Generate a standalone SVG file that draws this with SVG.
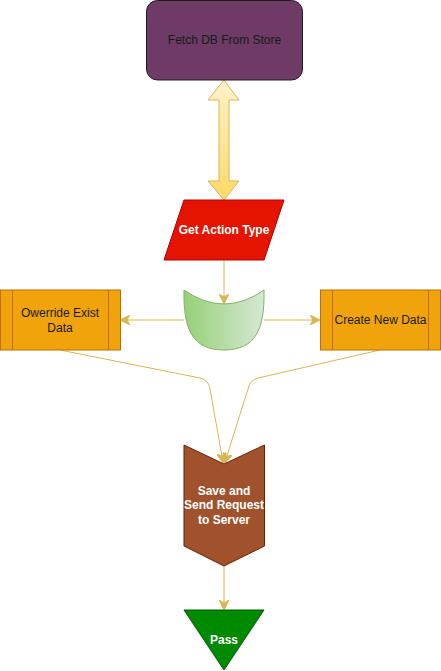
<svg xmlns="http://www.w3.org/2000/svg" width="441" height="671" viewBox="0 0 441 671">
<defs>
<linearGradient id="gy" x1="0" y1="0" x2="0" y2="1"><stop offset="0" stop-color="#fff2cc"/><stop offset="1" stop-color="#ffd966"/></linearGradient>
<linearGradient id="gg" x1="0" y1="0" x2="1" y2="0"><stop offset="0" stop-color="#97d077"/><stop offset="1" stop-color="#d5e8d4"/></linearGradient>
<marker id="ah" viewBox="0 0 10 10" refX="9" refY="5" markerWidth="10" markerHeight="10" markerUnits="userSpaceOnUse" orient="auto">
<path d="M0,0 L10,5 L0,10 L3,5 Z" fill="#d6b656" stroke="#d6b656" stroke-width="1"/>
</marker>
<style>
.t{font-family:"Liberation Sans",Arial,sans-serif;font-size:12px;text-anchor:middle}
.w{fill:#ffffff;font-weight:bold}
.c{fill:none;stroke:#d6b656;stroke-width:1}
.or{fill:#f0a30a;stroke:#bd7000;stroke-width:1}
</style>
</defs>
<rect width="441" height="671" fill="#ffffff"/>
<g id="connectors">
<path class="c" d="M224,260 L224,303" marker-end="url(#ah)"/>
<path class="c" d="M184,320 L121,320" marker-end="url(#ah)"/>
<path class="c" d="M264,320 L319,320" marker-end="url(#ah)"/>
<path class="c" d="M60,350 L200,378 Q209,380 210,389 L223,462" marker-end="url(#ah)"/>
<path class="c" d="M380,350 L258,378 Q250,380 248,389 L225,462" marker-end="url(#ah)"/>
<path class="c" d="M224,566 L224,609" marker-end="url(#ah)"/>
</g>
<g id="dbl-arrow">
<path d="M224,80 L239,100 L229,100 L229,181 L239,181 L224,200 L208,181 L219,181 L219,100 L208,100 Z" fill="url(#gy)" stroke="#d6b656" stroke-width="1"/>
</g>
<g id="fetch">
<rect x="146.5" y="0.5" width="156" height="79.5" rx="11" fill="#6d3b66" stroke="#1f1a1f" stroke-width="1"/>
<text class="t" x="224.5" y="44" fill="#1a1a1a">Fetch DB From Store</text>
</g>
<g id="action">
<path d="M184,200 L284,200 L264,260 L164,260 Z" fill="#e51400" stroke="#b20000" stroke-width="1"/>
<text class="t w" x="224" y="234">Get Action Type</text>
</g>
<g id="decision">
<path d="M184,290 Q224,318 264,290 C265,330 255,350 224,350 C193,350 183,330 184,290 Z" fill="url(#gg)" stroke="#82b366" stroke-width="1"/>
</g>
<g id="override">
<rect class="or" x="0.5" y="290" width="120" height="60"/>
<path d="M12.5,290 V350 M108.5,290 V350" stroke="#bd7000" stroke-width="1"/>
<text class="t" x="60" y="317" fill="#1a1a1a">Owerride Exist</text>
<text class="t" x="60" y="332" fill="#1a1a1a">Data</text>
</g>
<g id="create">
<rect class="or" x="320.5" y="290" width="120" height="60"/>
<path d="M332.5,290 V350 M428.5,290 V350" stroke="#bd7000" stroke-width="1"/>
<text class="t" x="380.5" y="324" fill="#1a1a1a">Create New Data</text>
</g>
<g id="save">
<path d="M184,445 L224,464 L264.5,445 L264.5,546 L224,566 L184,546 Z" fill="#a0522d" stroke="#6d1f00" stroke-width="1"/>
<text class="t w" x="224" y="495">Save and</text>
<text class="t w" x="224" y="509">Send Request</text>
<text class="t w" x="224" y="524">to Server</text>
</g>
<g id="pass">
<path d="M184,610 L264,610 L224,670 Z" fill="#008a00" stroke="#005700" stroke-width="1"/>
<text class="t w" x="224" y="644">Pass</text>
</g>
</svg>
